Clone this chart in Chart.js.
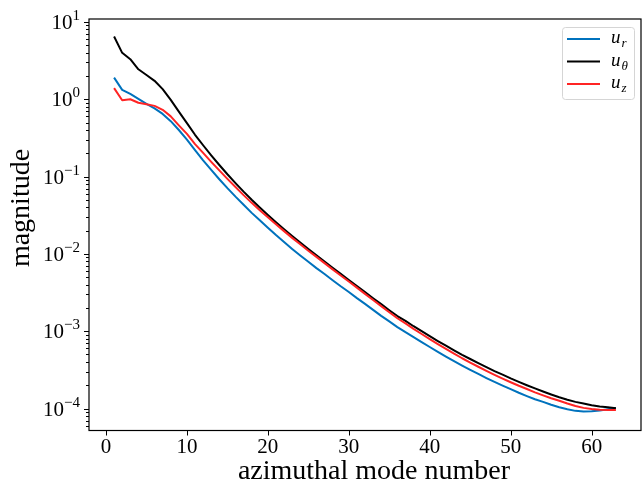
<!DOCTYPE html>
<html><head><meta charset="utf-8">
<script src="https://cdn.jsdelivr.net/npm/chart.js@4.4.0/dist/chart.umd.min.js"></script>
<style>html,body{margin:0;padding:0;background:#fff;}#wrap{width:643px;height:486px;}</style>
</head><body><div id="wrap"><canvas id="c" width="643" height="486"></canvas></div>
<script>
const modes = [1,2,3,4,5,6,7,8,9,10,11,12,13,14,15,16,17,18,19,20,21,22,23,24,25,26,27,28,29,30,31,32,33,34,35,36,37,38,39,40,41,42,43,44,45,46,47,48,49,50,51,52,53,54,55,56,57,58,59,60,61,62,63];
const uR = [1.90,1.32,1.17,1.01,0.87,0.76,0.645,0.52,0.40,0.30,0.219,0.162,0.122,0.0923,0.0708,0.0550,0.0432,0.0339,0.0272,0.0218,0.0175,0.0142,0.0116,0.00955,0.00789,0.00655,0.00550,0.00457,0.00381,0.00321,0.00268,0.00226,0.00189,0.00158,0.00134,0.00113,0.000971,0.000841,0.000724,0.000625,0.000541,0.000470,0.000410,0.000359,0.000316,0.000280,0.000248,0.000221,0.000198,0.000178,0.000160,0.000145,0.000132,0.000122,0.000112,0.000104,0.0000977,0.0000933,0.0000916,0.0000923,0.0000944,0.0000982,0.000102];
const uTheta = [6.46,3.98,3.29,2.44,2.06,1.73,1.35,0.98,0.69,0.49,0.347,0.254,0.188,0.141,0.107,0.0822,0.0638,0.0501,0.0398,0.0318,0.0256,0.0208,0.0170,0.0140,0.01153,0.00957,0.00794,0.00661,0.00551,0.00459,0.00383,0.00320,0.00267,0.00224,0.00187,0.00157,0.00136,0.00116,0.00100,0.000863,0.000746,0.000649,0.000566,0.000495,0.000437,0.000386,0.000343,0.000305,0.000274,0.000245,0.000221,0.000200,0.000182,0.000166,0.000152,0.000140,0.000130,0.000122,0.000116,0.000110,0.000106,0.000104,0.000101];
const uZ = [1.39,0.97,1.00,0.90,0.86,0.82,0.73,0.60,0.46,0.356,0.263,0.202,0.155,0.120,0.0933,0.0733,0.0575,0.0457,0.0367,0.0297,0.0241,0.0197,0.0161,0.0133,0.0110,0.00914,0.00759,0.00631,0.00526,0.00439,0.00366,0.00304,0.00253,0.00211,0.00176,0.00147,0.00126,0.00107,0.000920,0.000791,0.000681,0.000590,0.000513,0.000447,0.000393,0.000347,0.000307,0.000273,0.000244,0.000219,0.000197,0.000179,0.000162,0.000148,0.000136,0.000126,0.000116,0.000108,0.000102,0.0000989,0.0000966,0.0000955,0.0000955];
const xTicks = [0,10,20,30,40,50,60];
const yDecades = [-5,-4,-3,-2,-1,0,1];
const yLabelExps = ['\u22124','\u22123','\u22122','\u22121','0','1'];
const yLabelDecades = [-4,-3,-2,-1,0,1];
const seriesNames = ['u_r','u_\u03b8','u_z'];
const seriesSubs = ['r','\u03b8','z'];
const seriesColors = ['#0072BD','#000000','#FF2424'];
const xTitle = 'azimuthal mode number';
const yTitle = 'magnitude';

const SERIF = '"Liberation Serif", "DejaVu Serif", serif';
const pts = arr => modes.map((m,i)=>({x:m,y:arr[i]}));

const decor = {
  id:'decor',
  afterDraw(chart){
    const {ctx, chartArea:a, scales:{x,y}} = chart;
    ctx.save();
    ctx.strokeStyle='#000'; ctx.lineWidth=1;
    ctx.beginPath();
    x.ticks.forEach(t=>{const px=Math.round(x.getPixelForValue(t.value))+0.5; ctx.moveTo(px,a.bottom); ctx.lineTo(px,a.bottom+5);});
    y.ticks.forEach(t=>{const py=Math.round(y.getPixelForValue(t.value))+0.5; const L=t.major?5:3; ctx.moveTo(a.left,py); ctx.lineTo(a.left-L,py);});
    ctx.stroke();
    ctx.lineWidth=1.2;
    ctx.strokeRect(a.left, a.top, a.right-a.left, a.bottom-a.top);
    // y tick labels 10^k
    ctx.fillStyle='#000';
    ctx.textBaseline='alphabetic';
    yLabelDecades.forEach((k,i)=>{
      const py = y.getPixelForValue(Math.pow(10,k));
      const exp = yLabelExps[i];
      ctx.font = '15px '+SERIF;
      const ew = ctx.measureText(exp).width;
      const right = a.left-9;
      const base = py+7;
      ctx.textAlign='left';
      ctx.fillText(exp, right-ew, base-9);
      ctx.font = '21px '+SERIF;
      ctx.textAlign='right';
      ctx.fillText('10', right-ew, base);
    });
    // axis titles
    ctx.font = '28px '+SERIF;
    ctx.textAlign='center';
    ctx.fillText(xTitle, (a.left+a.right)/2+9, 479);
    ctx.save();
    ctx.translate(29, a.top+189);
    ctx.rotate(-Math.PI/2);
    ctx.fillText(yTitle, 0, 0);
    ctx.restore();
    // legend
    const bw=72, bh=72, bx=a.right-bw-7, by=a.top+8;
    ctx.beginPath();
    ctx.roundRect(bx+0.5,by+0.5,bw,bh,3);
    ctx.fillStyle='rgba(255,255,255,0.8)'; ctx.fill();
    ctx.strokeStyle='#d5d5d5'; ctx.lineWidth=1; ctx.stroke();
    chart.data.datasets.forEach((ds,i)=>{
      const ry = by+12+i*22.5;
      ctx.strokeStyle=ds.borderColor; ctx.lineWidth=2;
      ctx.beginPath(); ctx.moveTo(bx+5,ry); ctx.lineTo(bx+38,ry); ctx.stroke();
      ctx.fillStyle='#000'; ctx.textAlign='left';
      ctx.font='italic 19px '+SERIF;
      const tx = bx+49;
      ctx.fillText('u', tx, ry+4);
      const uw = ctx.measureText('u').width;
      ctx.font='italic 13px '+SERIF;
      ctx.fillText(seriesSubs[i], tx+uw+1, ry+8);
    });
    ctx.restore();
  }
};

new Chart(document.getElementById('c'), {
  type:'line',
  data:{datasets:[
    {label:seriesNames[0], data:pts(uR), borderColor:seriesColors[0], order:3},
    {label:seriesNames[1], data:pts(uTheta), borderColor:seriesColors[1], order:2},
    {label:seriesNames[2], data:pts(uZ), borderColor:seriesColors[2], order:1}
  ]},
  options:{
    responsive:false, animation:false, devicePixelRatio:1,
    datasets:{line:{borderWidth:2, pointRadius:0, tension:0, fill:false, borderJoinStyle:'round', borderCapStyle:'butt'}},
    layout:{padding:{left:0,right:2,top:19,bottom:0}},
    plugins:{legend:{display:false}, tooltip:{enabled:false}},
    scales:{
      x:{type:'linear', min:-2.1, max:66.1, bounds:'data',
        afterBuildTicks:s=>{s.ticks = xTicks.map(v=>({value:v}));},
        afterFit:s=>{s.height=55.5;},
        grid:{display:false, drawTicks:false}, border:{display:false},
        ticks:{font:{family:SERIF,size:21}, color:'#000', padding:4, maxRotation:0, autoSkip:false},
        title:{display:false}
      },
      y:{type:'logarithmic', min:5.2e-5, max:10.9, bounds:'data',
        afterBuildTicks:s=>{
          const t=[];
          yDecades.forEach(k=>{for(let m=1;m<=9;m++){const v=m*Math.pow(10,k); if(v>=s.min && v<=s.max) t.push({value:v, major:m===1});}});
          s.ticks=t;
        },
        afterFit:s=>{s.width=89;},
        grid:{display:false, drawTicks:false}, border:{display:false},
        ticks:{display:false},
        title:{display:false}
      }
    }
  },
  plugins:[decor]
});
</script></body></html>
